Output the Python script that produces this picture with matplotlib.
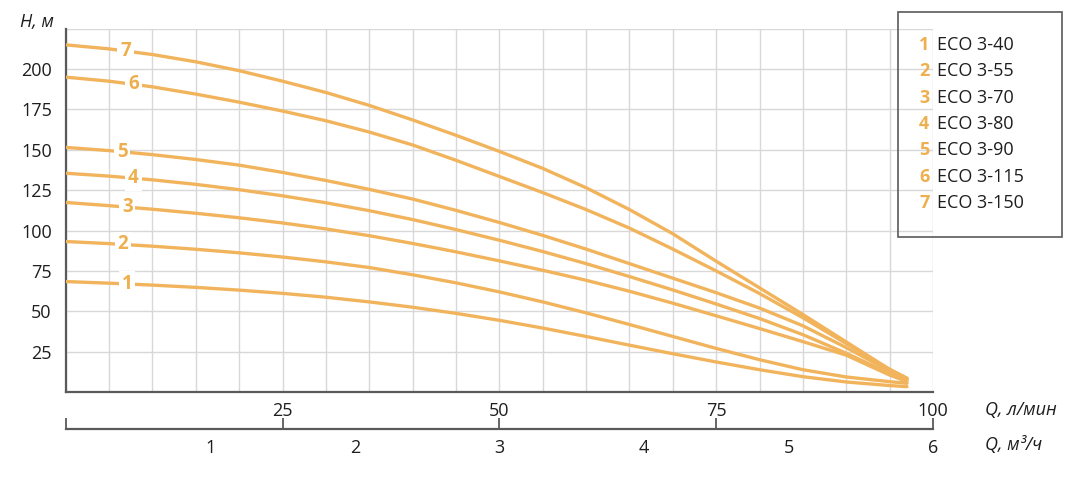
import numpy as np
import matplotlib.pyplot as plt
from matplotlib.patches import Rectangle

plt.rcParams['font.family'] = ['Open Sans', 'DejaVu Sans']

# расход Q, л/мин
q = [0, 5, 10, 15, 20, 25, 30, 35, 40, 45, 50, 55, 60, 65, 70, 75, 80, 85, 90, 95, 97]

# напор H, м для каждой модели
h1 = [68.4, 67.4, 66.2, 64.8, 63.1, 61.1, 58.7, 55.8, 52.5, 48.7, 44.4, 39.6, 34.4, 29.0, 23.7, 18.6, 13.8, 9.5, 6.2, 4.0, 3.3]
h2 = [93.2, 91.9, 90.3, 88.4, 86.2, 83.6, 80.6, 77.1, 72.6, 67.6, 62.0, 55.8, 49.0, 41.8, 34.4, 27.0, 20.0, 13.8, 9.3, 6.4, 5.4]
h3 = [117.4, 115.4, 113.2, 110.7, 107.9, 104.7, 101.0, 96.8, 92.0, 86.8, 81.2, 75.4, 69.2, 62.4, 55.0, 47.2, 39.3, 31.2, 22.8, 10.5, 6.5]
h4 = [135.5, 133.7, 131.4, 128.6, 125.3, 121.5, 117.2, 112.3, 106.8, 100.6, 94.0, 87.0, 79.5, 71.5, 63.2, 54.5, 45.5, 35.5, 24.0, 11.5, 7.5]
h5 = [151.5, 149.5, 147.0, 144.0, 140.5, 136.0, 131.0, 125.5, 119.5, 112.5, 105.0, 97.0, 88.5, 79.5, 70.5, 61.5, 52.0, 41.0, 27.5, 13.0, 8.0]
h6 = [195.0, 192.5, 189.0, 184.5, 179.5, 174.0, 168.0, 161.0, 153.0, 143.5, 133.5, 123.5, 113.0, 101.5, 88.5, 75.0, 61.0, 46.0, 30.0, 14.0, 8.5]
h7 = [215.0, 212.5, 209.0, 204.5, 199.0, 192.5, 185.5, 177.5, 168.5, 159.0, 149.0, 138.5, 126.5, 113.0, 98.0, 81.0, 64.5, 48.0, 31.0, 14.0, 8.5]
curves = [h1, h2, h3, h4, h5, h6, h7]
models = ['ECO 3-40', 'ECO 3-55', 'ECO 3-70', 'ECO 3-80', 'ECO 3-90', 'ECO 3-115', 'ECO 3-150']
label_q = [7.1, 6.6, 7.1, 7.8, 6.5, 7.8, 6.9]

y_ticks = [25, 50, 75, 100, 125, 150, 175, 200, 225]
q_ticks = [0, 25, 50, 75, 100]
m3_ticks = [1, 2, 3, 4, 5, 6]

line_col = '#F1B45C'
num_col = '#EEAF4E'
grid_col = '#D8D8D8'
spine_col = '#5A5A5A'
txt_col = '#1E1E1E'

W, H = 1071, 480
fig = plt.figure(figsize=(W / 100, H / 100), dpi=100)

def fx(px):
    return px / W

def fy(py):
    return 1 - py / H

x0, x1 = 65.7, 933
ax = fig.add_axes([fx(x0), fy(392), fx(x1 - x0), (392 - 28.7) / H])
ax.set_xlim(0, 100)
ax.set_ylim(0, 225)
ax.set_xticks(np.arange(0, 101, 5))
ax.set_yticks(y_ticks)
ax.set_yticklabels([str(v) if v < 225 else '' for v in y_ticks])
ax.tick_params(axis='x', length=0, labelbottom=False)
ax.tick_params(axis='y', length=0, pad=10, labelsize=13, labelcolor=txt_col)
ax.grid(True, color=grid_col, linewidth=1)
ax.set_axisbelow(True)
for s in ['top', 'right']:
    ax.spines[s].set_visible(False)
for s in ['left', 'bottom']:
    ax.spines[s].set_color(spine_col)
    ax.spines[s].set_linewidth(1.6)

for i, h in enumerate(curves):
    ax.plot(q, h, color=line_col, linewidth=2.4, solid_capstyle='round',
            solid_joinstyle='round', zorder=3)
    lq = label_q[i]
    ax.text(lq, np.interp(lq, q, h), str(i + 1), color=num_col, fontsize=13.5,
            fontweight='bold', ha='center', va='center', zorder=4,
            bbox=dict(boxstyle='square,pad=0.15', fc='white', ec='none'))

# вторая шкала: л/мин и м3/ч
ax2 = fig.add_axes([fx(x0), fy(429), fx(x1 - x0), 0.002])
ax2.set_xlim(0, 100)
ax2.set_ylim(0, 1)
ax2.set_yticks([])
ax2.patch.set_visible(False)
for s in ['top', 'right', 'left']:
    ax2.spines[s].set_visible(False)
ax2.spines['bottom'].set_color(spine_col)
ax2.spines['bottom'].set_linewidth(1.6)
ax2.set_xticks(q_ticks)
ax2.set_xticklabels(['' if v == 0 else str(v) for v in q_ticks])
ax2.tick_params(axis='x', bottom=True, top=False, direction='in', length=8, width=1.3,
                color=spine_col, labelbottom=False, labeltop=True, labelsize=13,
                labelcolor=txt_col, pad=6)

sec = ax2.secondary_xaxis('bottom', functions=(lambda v: v * 0.06, lambda v: v / 0.06))
sec.set_xticks(m3_ticks)
sec.spines['bottom'].set_visible(False)
sec.tick_params(axis='x', length=0, pad=7, labelsize=13, labelcolor=txt_col)

fig.text(fx(20), fy(22), 'H, м', fontsize=13, style='italic', color=txt_col, va='center')
fig.text(fx(985), fy(410), 'Q, л/мин', fontsize=13, style='italic', color=txt_col, va='center')
fig.text(fx(985), fy(445), 'Q, м³/ч', fontsize=13, style='italic', color=txt_col, va='center')

# легенда
fig.patches.append(Rectangle((fx(898), fy(237)), fx(1062 - 898), (237 - 12) / H,
                             transform=fig.transFigure, fill=False, ec=spine_col, lw=1.2))
for i, name in enumerate(models):
    yy = fy(45 + i * 26.3)
    fig.text(fx(919), yy, str(i + 1), color=num_col, fontsize=13, fontweight='bold', va='center')
    fig.text(fx(937), yy, name, color=txt_col, fontsize=13, va='center')

fig.savefig('out.png', dpi=100, facecolor='white')
